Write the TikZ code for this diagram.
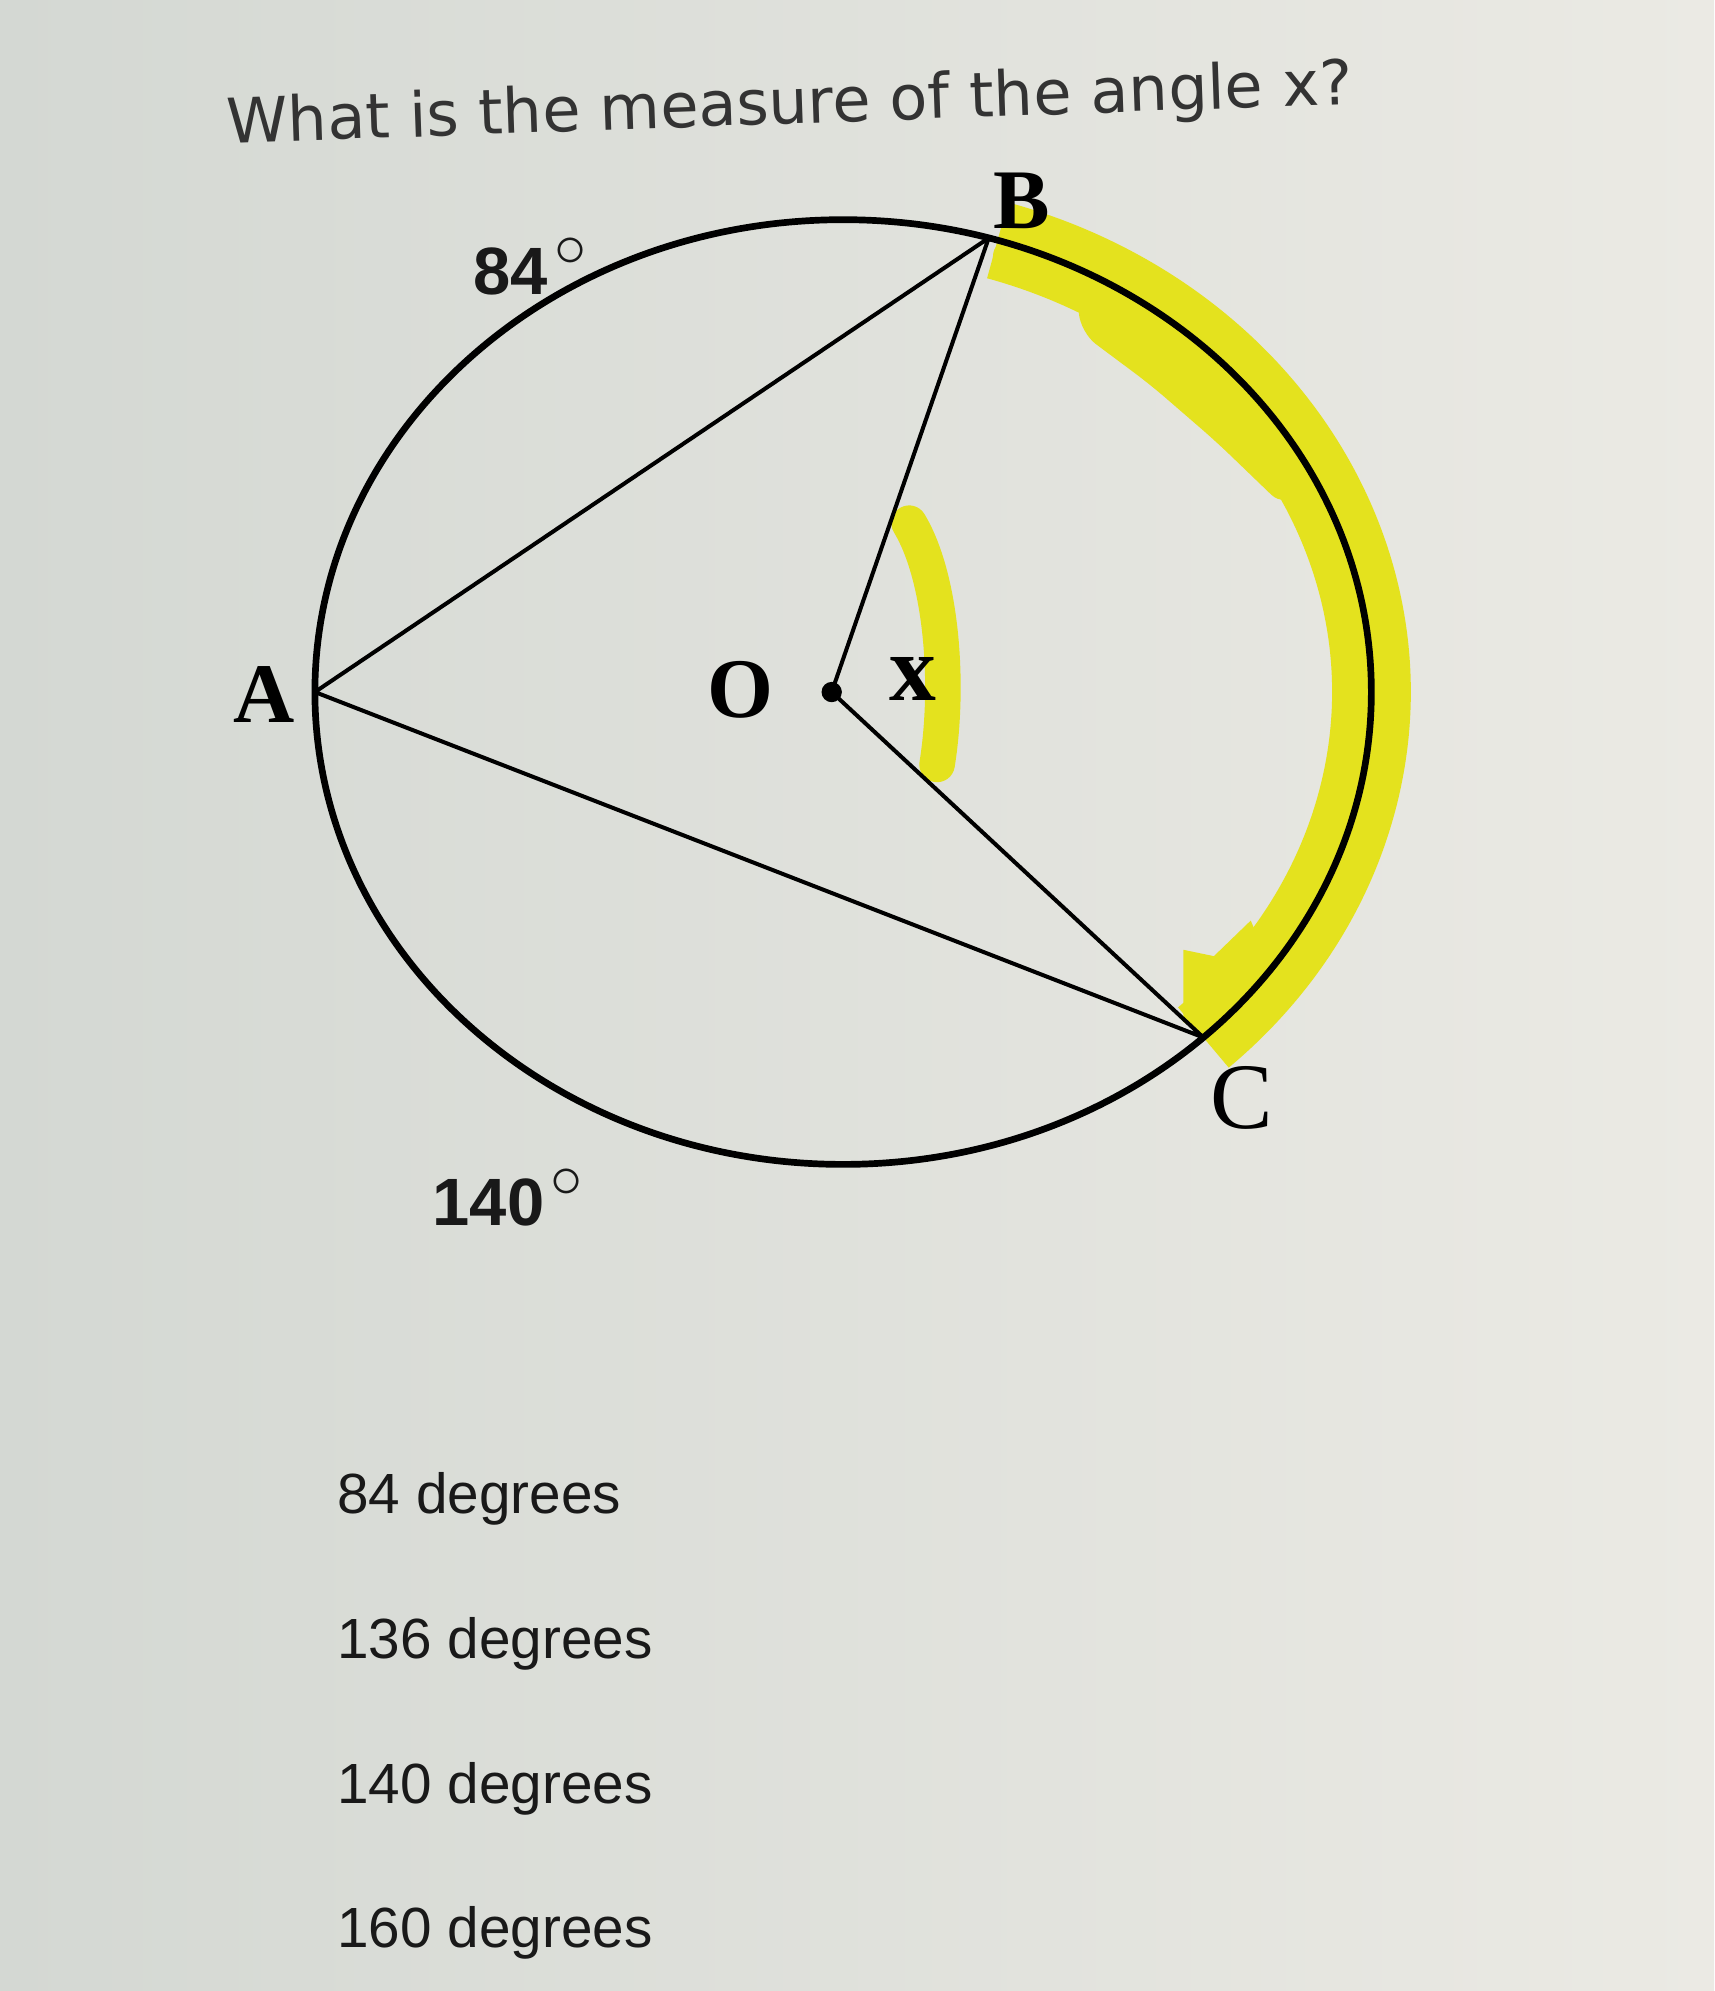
\documentclass[tikz,border=0pt]{standalone}
\usepackage{fontspec}
\setmainfont{Liberation Serif}
\setsansfont{Liberation Sans}
\newfontfamily\verafont{DejaVu Sans}
\usetikzlibrary{positioning}
\definecolor{hlyellow}{RGB}{228,226,30}
\definecolor{screenl}{RGB}{212,216,211}
\definecolor{screenr}{RGB}{235,234,228}
\newcommand{\degmark}{\hspace{1.5pt}\raisebox{-1.3pt}{\fontsize{20}{20}\selectfont$^{\circ}$}}
\tikzset{
    %Define style for texts
    question/.style={
           font=\verafont\fontsize{13.9}{14}\selectfont,
           text=black!80,
           inner sep=0pt,
           },
    ptname/.style={
           font=\fontsize{19}{19}\selectfont\bfseries,
           inner sep=0pt,
           },
    arclabel/.style={
           font=\sffamily\bfseries\fontsize{15}{15}\selectfont,
           text=black!90,
           inner sep=0pt,
           anchor=base west,
           },
    answer/.style={
           font=\sffamily\fontsize{12.7}{13}\selectfont,
           text=black!90,
           inner sep=0pt,
           anchor=base west,
           },
    % Define line styles
    rim/.style={line width=1.5pt},
    chord/.style={line width=0.9pt},
    highlight/.style={draw=hlyellow, line width=6.2mm},
}
\begin{document}
\begin{tikzpicture}[x=0.1mm, y=0.1mm, node distance=1.14cm]

 %background
 \shade[left color=screenl, right color=screenr] (0,0) rectangle (1350,-1568);
 \useasboundingbox (0,0) rectangle (1350,-1568);

 %points
 \coordinate (ctr) at (664,-545);
 \coordinate (O) at (655,-545);
 \path (ctr) ++(180:416 and 372) coordinate (A);
 \path (ctr) ++(74:416 and 372) coordinate (B);
 \path (ctr) ++(-47:416 and 372) coordinate (C);

 %highlighter
 \draw[highlight] (ctr) ++(73:416 and 372) arc[start angle=73, end angle=-47, x radius=416, y radius=372];
 \fill[hlyellow, rounded corners=1.5mm] (782,-187) -- (782,-220) -- (848,-228) -- (851,-262) -- (906,-303) -- (958,-348)
    -- (1012,-400) -- (1030,-380) -- (1024,-359) -- (983,-306) -- (931,-260) -- (872,-223) -- (800,-190) -- cycle;
 \fill[hlyellow] (932,-748) -- (956,-753) -- (985,-725) -- (1000,-760) -- (960,-822) -- (932,-805) -- cycle;
 \draw[highlight, line width=2.8mm, line cap=round] (716,-412) .. controls (742,-455) and (748,-540) .. (738,-602);

 %circle and chords
 \draw[rim] (ctr) ellipse [x radius=416, y radius=372];
 \draw[chord] (A) -- (B) (A) -- (C) (O) -- (B) (O) -- (C);
 \fill (O) circle [radius=8];

 %labels
 \node[question, rotate=2] (q) at (622,-84) {What is the measure of the angle x?};
 \node[ptname] (la) at (208,-547) {A};
 \node[ptname] (lb) at (805,-158) {B};
 \node[ptname, font=\fontsize{21}{21}\selectfont] (lc) at (978,-865) {C};
 \node[ptname] (lo) at (583,-543) {O};
 \node[ptname, font=\fontsize{21}{21}\selectfont\bfseries] (lx) at (719,-535) {x};
 \node[arclabel] (l84) at (372,-232) {84\degmark};
 \node[arclabel] (l140) at (340,-965) {140\degmark};

 %answers
 \node[answer] (ans1) at (265,-1192) {84 degrees};
 \node[below=of ans1.base west, answer] (ans2) {136 degrees};
 \node[below=of ans2.base west, answer] (ans3) {140 degrees};
 \node[below=of ans3.base west, answer] (ans4) {160 degrees};

\end{tikzpicture}
\end{document}
